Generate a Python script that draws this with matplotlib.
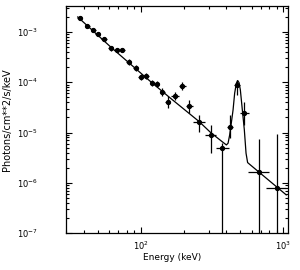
"""Photon spectrum with power law + line model (recreated)."""

import numpy as np
import matplotlib
matplotlib.use("Agg")
import matplotlib.pyplot as plt

# measured points: energy (keV), bin edges, flux and its error range
energy = [37.4, 42.4, 46.4, 50.2, 55.4, 61.6, 67.9, 74.5, 82.8, 92.3,
          100.0, 109.6, 120.7, 130.4, 141.8, 155.3, 173.0, 196.0, 220.0, 257.0,
          310.0, 374.0, 426.0, 474.0, 534.0, 671.0, 908.0]
e_lo = [35.9, 40.7, 44.6, 48.2, 53.2, 59.2, 65.2, 71.6, 79.5, 88.7,
        96.1, 105.3, 116.0, 125.3, 136.2, 149.2, 162.1, 185.3, 207.3, 232.1,
        284.8, 338.3, 406.0, 449.0, 500.5, 562.8, 760.0]
e_hi = [38.9, 44.1, 48.3, 52.3, 57.7, 64.1, 70.7, 77.6, 86.2, 96.1,
        104.1, 114.1, 125.6, 135.7, 147.6, 161.7, 185.3, 209.7, 233.6, 284.8,
        338.3, 414.6, 447.0, 500.5, 571.9, 789.0, 1049.6]
flux = [1.87e-3, 1.31e-3, 1.10e-3, 9.1e-4, 7.2e-4, 4.7e-4, 4.4e-4, 4.4e-4, 2.5e-4, 1.9e-4,
        1.29e-4, 1.33e-4, 9.5e-5, 9.2e-5, 6.5e-5, 4.1e-5, 5.3e-5, 8.4e-5, 3.4e-5, 1.65e-5,
        8.95e-6, 4.9e-6, 1.31e-5, 8.8e-5, 2.42e-5, 1.63e-6, 7.7e-7]
f_lo = [1.71e-3, 1.20e-3, 1.00e-3, 8.3e-4, 6.5e-4, 4.25e-4, 4.0e-4, 4.0e-4, 2.18e-4, 1.66e-4,
        1.12e-4, 1.16e-4, 8.3e-5, 8.0e-5, 5.4e-5, 3.1e-5, 4.4e-5, 7.03e-5, 2.42e-5, 1.04e-5,
        3.93e-6, 1e-9, 7.8e-6, 5.6e-5, 1.42e-5, 1e-9, 1e-9]
f_hi = [2.05e-3, 1.44e-3, 1.21e-3, 1.0e-3, 7.9e-4, 5.2e-4, 4.85e-4, 4.85e-4, 2.87e-4, 2.18e-4,
        1.48e-4, 1.53e-4, 1.09e-4, 1.06e-4, 7.8e-5, 5.4e-5, 6.4e-5, 1.03e-4, 4.45e-5, 2.24e-5,
        1.42e-5, 6.3e-6, 2.24e-5, 1.11e-4, 4.11e-5, 7.46e-6, 9.4e-6]

# fitted model curve
model_e = [36.25, 61.7, 117.5, 162.1, 257.3, 310.1, 372.7, 399.4, 410.5, 421.2,
           430.8, 444.9, 456.5, 469.2, 479.1, 490.0, 500.5, 516.8, 533.7, 548.6,
           562.8, 587.8, 1049.6]
model_f = [1.99e-3, 5.04e-4, 1.03e-4, 4.81e-5, 1.65e-5, 9.96e-6, 6.59e-6, 5.66e-6, 6.12e-6, 8.95e-6,
           1.42e-5, 2.81e-5, 6.04e-5, 9.55e-5, 1.08e-4, 9.82e-5, 7.03e-5, 2.81e-5, 1.13e-5, 3.87e-6,
           2.52e-6, 2.27e-6, 5.74e-7]

e = np.array(energy)
f = np.array(flux)
xerr = [e - np.array(e_lo), np.array(e_hi) - e]
yerr = [f - np.array(f_lo), np.array(f_hi) - f]

fig = plt.figure(figsize=(3.0, 2.7), dpi=100)
ax = fig.add_axes([0.22, 0.137, 0.74, 0.841])

ax.errorbar(e, f, xerr=xerr, yerr=yerr, fmt="o", color="black",
            ms=2.8, elinewidth=0.9, capsize=0)
ax.plot(model_e, model_f, "k-", linewidth=0.9)

ax.set_xscale("log")
ax.set_yscale("log")
ax.set_xlim(30, 1080)
ax.set_ylim(1e-7, 3.3e-3)

ax.tick_params(which="both", direction="in", top=True, right=True,
               width=0.8, labelsize=6)
ax.tick_params(which="major", length=4)
ax.tick_params(which="minor", length=2)
ax.tick_params(axis="y", which="major", pad=20)
ax.tick_params(axis="x", which="major", pad=5)
for s in ax.spines.values():
    s.set_linewidth(0.9)

ax.set_xlabel("Energy (keV)", fontsize=6.5)
ax.set_ylabel("Photons/cm**2/s/keV", fontsize=7)
ax.xaxis.set_label_coords(0.477, -0.09)
ax.yaxis.set_label_coords(-0.243, 0.5)

plt.savefig("out.png", dpi=100)
plt.close()
